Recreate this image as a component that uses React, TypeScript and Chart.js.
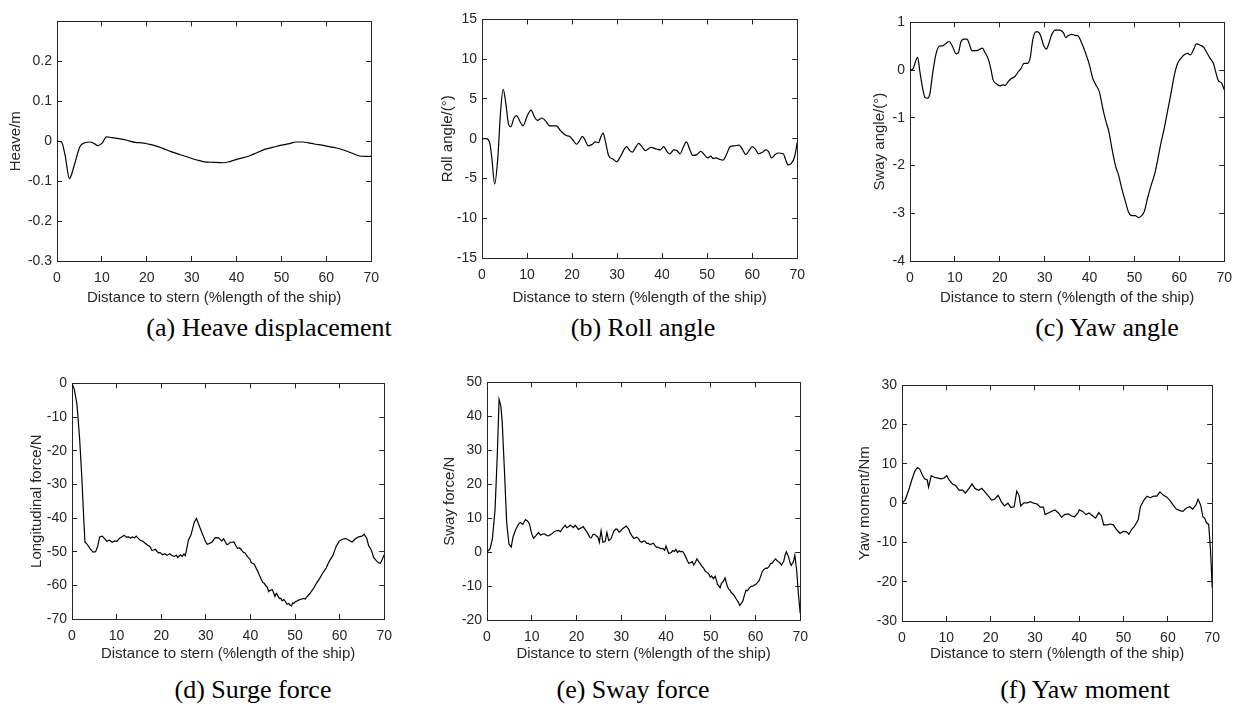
import { useEffect, useRef } from 'react';
import { Chart, registerables } from 'chart.js';

Chart.register(...registerables);

const xTitle = 'Distance to stern (%length of the ship)';
const xMin = 0;
const xMax = 70;
const xStep = 10;

// (a) Heave displacement
const heaveX = [0, 1, 1.8, 2.76, 3.8, 5.1, 6.2, 7.4, 8.3, 9.1, 10.1, 11.0, 12.2, 13.4, 15.4, 17.4, 18.9, 20.3, 21.8, 23.6, 25.4, 27.5, 29.7, 31.2, 32.6, 35, 37, 38.5, 39.9, 42.8, 44.5, 46.4, 48.2, 50, 51.8, 53.3, 54.8, 56, 57.3, 59, 60.9, 62.3, 63.8, 65.5, 67.4, 68.7, 70];
const heaveY = [0, -0.002, -0.035, -0.094, -0.062, -0.014, -0.004, -0.002, -0.006, -0.011, -0.004, 0.011, 0.009, 0.007, 0.003, -0.003, -0.004, -0.007, -0.011, -0.018, -0.026, -0.034, -0.042, -0.047, -0.051, -0.053, -0.054, -0.051, -0.046, -0.037, -0.029, -0.020, -0.015, -0.010, -0.006, -0.002, -0.002, -0.004, -0.007, -0.010, -0.014, -0.017, -0.022, -0.029, -0.037, -0.038, -0.038];

// (b) Roll angle
const rollX = [0, 0.9, 1.7, 2.2, 2.8, 3.5, 4.1, 4.7, 5.3, 5.9, 6.4, 7.1, 7.7, 8.4, 9.1, 10, 10.9, 11.6, 12.3, 13.3, 14, 15.1, 16.5, 17.6, 18.7, 19.4, 20.1, 21, 21.6, 22.3, 22.9, 23.6, 24.5, 25.2, 25.9, 26.3, 26.9, 27.4, 28.1, 29.2, 29.9, 30.7, 31.5, 32.1, 32.8, 33.4, 34.1, 34.8, 35.5, 36.3, 37.5, 38.8, 39.6, 40.3, 41.2, 41.7, 42.6, 43.3, 44, 44.6, 45.4, 46.1, 46.8, 47.7, 48.6, 49.5, 50.1, 50.8, 51.3, 52, 52.8, 53.5, 54.2, 55.1, 56, 57.1, 57.8, 58.6, 59.3, 60, 60.7, 61.4, 62.3, 63, 63.6, 64.3, 65.1, 65.8, 66.9, 67.4, 68, 68.7, 69.4, 70];
const rollY = [0, 0, -0.5, -2.5, -5.7, -2.5, 3.2, 6.2, 4.4, 1.8, 1.5, 2.6, 2.9, 2.2, 1.6, 2.8, 3.6, 2.8, 2.3, 2.6, 2.3, 1.6, 1.6, 0.9, 0.4, 0.3, -0.1, -0.7, -0.3, 0.3, -0.2, -0.9, -0.7, -0.4, -0.5, 0.1, 0.7, -0.3, -2.1, -2.6, -2.9, -2.3, -1.4, -1.0, -1.5, -1.7, -1.1, -0.6, -1.0, -1.5, -1.1, -1.3, -1.4, -1.0, -1.7, -1.9, -1.4, -1.5, -1.9, -1.2, -0.4, -1.3, -2.1, -2.0, -1.6, -2.1, -2.4, -2.2, -2.5, -2.4, -2.6, -2.7, -2.1, -1.0, -0.9, -0.8, -1.3, -2.0, -1.5, -1.0, -1.3, -1.9, -1.7, -1.4, -1.6, -2.4, -2.0, -1.8, -1.9, -2.6, -3.3, -3.1, -2.3, -0.5];

// (c) Yaw angle
const yawAngleX = [0, 0.7, 1.3, 1.7, 2.2, 2.8, 3.3, 3.9, 4.4, 5.1, 5.8, 6.5, 7.3, 8, 8.7, 9.4, 10.3, 10.8, 11.3, 12, 12.7, 13.2, 13.8, 14.9, 15.6, 16.1, 16.7, 17.4, 18, 18.5, 19.3, 20, 20.7, 21.2, 21.8, 22.5, 23.3, 24, 24.7, 25.4, 26.2, 26.8, 27.3, 28, 28.5, 29.1, 29.8, 30.4, 30.9, 31.6, 32.3, 33.4, 34.2, 34.7, 35.2, 36, 36.7, 37.4, 38.2, 39.3, 40, 40.7, 41.4, 42.2, 42.9, 43.6, 44.3, 45.1, 45.8, 46.5, 47.2, 48, 48.7, 49.4, 50.2, 50.9, 51.6, 52.2, 52.9, 53.8, 54.5, 55.2, 55.9, 56.7, 57.4, 58.1, 58.9, 59.6, 60.3, 61.1, 61.8, 62.5, 63.2, 63.8, 64.7, 65.4, 66.1, 66.9, 67.6, 68.2, 68.7, 69.4, 70];
const yawAngleY = [0, 0.03, 0.2, 0.27, -0.03, -0.37, -0.57, -0.59, -0.51, -0.03, 0.34, 0.5, 0.51, 0.56, 0.6, 0.51, 0.34, 0.37, 0.58, 0.65, 0.65, 0.55, 0.41, 0.41, 0.44, 0.46, 0.37, 0.24, 0.03, -0.2, -0.29, -0.33, -0.31, -0.32, -0.25, -0.18, -0.14, -0.05, 0.03, 0.14, 0.14, 0.27, 0.61, 0.8, 0.8, 0.72, 0.51, 0.44, 0.55, 0.75, 0.84, 0.84, 0.78, 0.68, 0.72, 0.75, 0.73, 0.72, 0.58, 0.31, 0.1, -0.17, -0.31, -0.46, -0.78, -1.06, -1.29, -1.7, -2.01, -2.21, -2.49, -2.76, -2.98, -3.05, -3.05, -3.09, -3.05, -2.96, -2.69, -2.39, -2.18, -1.87, -1.53, -1.19, -0.85, -0.51, -0.1, 0.14, 0.24, 0.32, 0.35, 0.32, 0.44, 0.55, 0.52, 0.48, 0.37, 0.24, 0.14, -0.07, -0.22, -0.27, -0.41];

// (d) Surge force
const surgeX = [0, 0.5, 1.1, 1.7, 2.2, 2.6, 2.9, 3.4, 4, 4.7, 5.3, 5.8, 6.2, 6.8, 7.3, 7.8, 8.4, 9, 9.5, 10.1, 10.6, 11.2, 11.7, 12.2, 12.7, 13.1, 13.5, 14, 14.4, 14.9, 15.3, 15.9, 16.4, 17, 17.5, 17.9, 18.3, 18.7, 19, 19.4, 19.7, 20.3, 20.8, 21.3, 21.9, 22.5, 23, 23.4, 23.7, 24.3, 24.7, 25.1, 25.4, 25.6, 26.1, 26.7, 27.4, 27.9, 28.5, 29.2, 29.9, 30.3, 30.7, 31.4, 32.1, 32.9, 33.3, 33.6, 34, 34.3, 34.7, 35.1, 35.5, 35.8, 36.3, 36.7, 37.1, 37.6, 38, 38.4, 38.8, 39.2, 39.5, 39.9, 40.2, 40.6, 40.9, 41.3, 41.6, 42, 42.4, 42.8, 43.1, 43.5, 43.8, 44.1, 44.4, 44.9, 45.2, 45.5, 45.8, 46, 46.3, 46.5, 46.8, 47.1, 47.5, 47.9, 48.2, 48.6, 48.9, 49.2, 49.5, 49.7, 50.1, 50.4, 50.8, 51.2, 51.9, 52.3, 52.6, 53.3, 54.1, 54.8, 55.5, 56.3, 57, 57.7, 58.5, 59.2, 59.9, 60.6, 61.4, 62.1, 62.8, 63.6, 64.3, 65, 65.5, 66.1, 66.5, 66.9, 67.3, 67.6, 68, 68.3, 68.7, 69.1, 69.4, 70];
const surgeY = [0, -1.7, -6.1, -16.2, -27.8, -39.3, -47.1, -47.8, -49, -50.1, -50, -48.2, -45.6, -45.4, -46.1, -46.9, -46.6, -47.2, -46.8, -46.9, -46.1, -45.6, -45.1, -45.7, -45.6, -46, -45.6, -45.9, -45.4, -46.1, -46.6, -46.9, -47.5, -48.1, -48.5, -49.6, -49.5, -49.3, -49.8, -50.4, -50.2, -50.9, -50.6, -51.1, -50.6, -51.2, -51.4, -51, -51.7, -50.9, -51.4, -50.7, -51.2, -50, -46.6, -44.9, -41.3, -40.1, -42.2, -44.6, -46.9, -47.8, -47.6, -47.1, -45.8, -45.9, -46.5, -46.8, -46.2, -46.9, -47.9, -47.7, -47.2, -47.2, -47.1, -48.1, -49, -48.9, -49.5, -50.2, -50.4, -51.2, -51.7, -52.2, -53.3, -53.5, -53.8, -54.9, -55.7, -56.9, -58.1, -59.2, -59.4, -60.2, -60.6, -61.9, -61.5, -61.3, -62.2, -63.3, -62.4, -62.7, -63.5, -63.9, -63.8, -64.6, -64.2, -64.9, -65.6, -65.4, -65.9, -66.1, -65.2, -65.4, -64.8, -64.7, -64.4, -64.2, -63.9, -64.1, -63.5, -62.5, -61, -59.4, -58, -56.2, -54.8, -52.8, -51.1, -48.5, -46.9, -46.3, -46.1, -46.6, -47.1, -46.1, -45.6, -45.4, -44.8, -46.1, -48.2, -49, -50.2, -51.7, -52.3, -52.8, -53.2, -53.5, -52.8, -50.9];

// (e) Sway force
const swayForceX = [0, 0.7, 1.2, 1.8, 2.3, 2.7, 3.1, 3.4, 3.9, 4.4, 4.9, 5.4, 5.8, 6.3, 6.9, 7.2, 7.5, 8, 8.6, 9.1, 9.5, 10, 10.4, 10.9, 11.5, 12, 12.5, 12.9, 13.4, 13.8, 14.2, 14.6, 15.1, 15.5, 16, 16.4, 17, 17.5, 17.8, 18.2, 18.6, 18.9, 19.3, 19.7, 20.1, 20.4, 20.8, 21.1, 21.5, 21.8, 22.2, 22.6, 23, 23.3, 23.7, 24, 24.4, 24.8, 25.1, 25.5, 25.9, 26.4, 26.8, 27.2, 27.7, 28, 28.4, 28.8, 29.1, 29.5, 29.9, 30.3, 30.6, 31.1, 31.7, 32, 32.4, 32.8, 33.1, 33.5, 33.9, 34.2, 34.6, 35, 35.3, 35.7, 36.1, 36.4, 36.8, 37.2, 37.5, 37.9, 38.2, 38.6, 38.9, 39.3, 39.7, 40, 40.6, 41.2, 41.5, 41.9, 42.2, 42.6, 43, 43.3, 43.7, 44, 44.4, 44.8, 45.1, 45.5, 45.9, 46.2, 46.6, 46.9, 47.2, 47.6, 48, 48.4, 48.7, 49.1, 49.5, 49.9, 50.2, 50.6, 51, 51.3, 51.5, 51.8, 52.1, 52.4, 52.8, 53.2, 53.5, 53.7, 54, 54.3, 54.6, 55, 55.3, 55.7, 56.1, 56.5, 56.8, 57.2, 57.5, 57.9, 58.2, 58.6, 59, 59.4, 60.1, 60.8, 61.2, 61.5, 61.9, 62.3, 62.6, 63, 63.4, 63.7, 64.1, 64.5, 64.8, 65.1, 65.5, 65.8, 66.3, 66.6, 66.9, 67.4, 67.7, 68, 68.5, 68.8, 69.2, 69.6, 70];
const swayForceY = [0, 1, 3.9, 12.5, 28.7, 45, 43, 38.3, 23.9, 8.7, 2.4, 1.5, 4.3, 6.3, 7.9, 8.5, 8.7, 8.2, 9.6, 9.1, 8.2, 5.3, 4.1, 4.8, 5.8, 5, 5.4, 5.3, 4.9, 4.8, 5.2, 5.5, 6.1, 6.3, 6.4, 6, 7.2, 7.9, 7.2, 7.5, 7.9, 7.7, 7.2, 7.9, 7.3, 6.7, 7, 7.2, 7.5, 6.9, 6.2, 5.3, 4.3, 4.2, 5.2, 5.3, 4.8, 4.4, 2.9, 6.3, 2.9, 3.1, 5.8, 3.4, 3.9, 5, 6.3, 6.8, 6.7, 5.9, 6.3, 6.9, 7.2, 7.7, 6.7, 5.6, 4.8, 4.1, 4.2, 4.4, 3.9, 3.2, 2.9, 3.3, 3.2, 2.6, 2.6, 2.2, 2.4, 2.6, 2, 1.4, 1.5, 1.2, 1, 1.1, 0.5, 1.8, -0.4, -0.1, 0.4, 0.2, 0.8, -0.1, 0.4, 0.1, 0.2, -0.3, -1.4, -2.6, -3.3, -3.1, -2.8, -3.8, -3, -2, -2.6, -3.3, -4.1, -4.7, -5.5, -5.9, -6.3, -7.4, -7, -7.8, -7.1, -8.4, -9.5, -9.9, -10.5, -9.2, -8.6, -7.6, -9.1, -10, -10.9, -11.2, -11.9, -12.4, -12.9, -13.8, -14.6, -15.7, -15.2, -14.3, -12.8, -11.2, -11.4, -10.6, -10.1, -10, -9.5, -8.4, -7, -5.7, -5.1, -4.7, -4.8, -4.3, -3.3, -3.3, -2.6, -2, -2.5, -2.8, -3.2, -3.8, -2.8, -1, 0.1, -1.4, -3, -3.9, -2.8, -0.9, -5.2, -12.4, -18.1];

// (f) Yaw moment
const yawMomentX = [0, 0.7, 1.5, 2.2, 2.9, 3.5, 4, 4.6, 5.1, 5.7, 6, 6.6, 7.3, 8.1, 8.8, 9.5, 10.1, 10.7, 11.4, 12.1, 12.9, 13.6, 14.3, 15.1, 15.8, 16.5, 17.3, 18, 18.7, 19.5, 20.2, 20.9, 21.7, 22.4, 23.1, 23.9, 24.6, 25.3, 25.9, 26.4, 26.8, 27.5, 28.3, 29, 29.7, 30.5, 31.2, 31.9, 32.3, 33, 33.7, 34.5, 35.3, 36, 36.7, 37.5, 38.2, 38.9, 39.7, 40, 40.8, 41.5, 42.2, 43, 43.7, 44.4, 45, 45.5, 46.3, 47, 47.7, 48.4, 49.2, 49.9, 50.7, 51.2, 51.8, 52.5, 53.3, 53.8, 54.6, 55.3, 56, 56.8, 57.5, 58.2, 59, 59.7, 60.4, 61.2, 61.9, 62.7, 63.4, 64.1, 64.9, 65.6, 66.3, 66.8, 67.4, 67.9, 68.3, 68.7, 69.2, 69.6, 70];
const yawMomentY = [0, 0.8, 3.3, 5.9, 8.2, 9.1, 8.7, 7.2, 6.2, 5.9, 4.1, 7, 6.6, 6.4, 6.2, 6.4, 7, 5.8, 4.9, 4.5, 3.3, 3.4, 2.6, 3.7, 4.9, 3.7, 3.3, 3.8, 2.9, 1.8, 0.8, 1, 2, 0.4, -0.7, 0, -1.1, -0.9, 3.1, 2, -0.7, 0.1, 0.1, 0.4, 0, -0.2, -1, -1, -2.9, -2.5, -2.1, -1.7, -2.5, -3.6, -2.9, -2.7, -3.2, -3.5, -2.5, -1.7, -2.1, -2.9, -2.5, -3.2, -3.8, -2.4, -3.2, -5.5, -5.5, -5.3, -5.5, -6.7, -7.7, -7.2, -7.3, -7.9, -6.7, -5.8, -4.2, -0.9, 0.8, 1.8, 1.4, 1.8, 1.8, 2.9, 2, 1.6, 0.8, -0.5, -1.5, -1.9, -2.1, -1.3, -0.9, -1.5, -0.5, 1, -0.5, -3.5, -3.8, -5, -5.4, -11.6, -21.5];

const AXIS_COLOR = '#262626';
const SANS = '"Liberation Sans", Arial, Helvetica, sans-serif';
const SERIF = '"Liberation Serif", "Times New Roman", serif';

type PanelDef = {
  xs: number[];
  ys: number[];
  yMin: number;
  yMax: number;
  yStep: number;
  yTitle: string;
  caption: string;
  L: number; R: number; T: number; B: number;
  yTitleX: number;
  xTitleOffset: number;
  hideTopLabel: boolean;
  tension: number;
  captionX: number;
  captionBase: number;
};

const panels: PanelDef[] = [
  { xs: heaveX, ys: heaveY, yMin: -0.3, yMax: 0.3, yStep: 0.1, yTitle: 'Heave/m', caption: '(a) Heave displacement', L: 57, R: 378, T: 15, B: 261, yTitleX: 16, xTitleOffset: 37, hideTopLabel: true, tension: 0.4, captionX: 269, captionBase: 337 },
  { xs: rollX, ys: rollY, yMin: -15, yMax: 15, yStep: 5, yTitle: 'Roll angle/(°)', caption: '(b) Roll angle', L: 482, R: 804, T: 13, B: 258, yTitleX: 448, xTitleOffset: 40, hideTopLabel: false, tension: 0.4, captionX: 643, captionBase: 337 },
  { xs: yawAngleX, ys: yawAngleY, yMin: -4, yMax: 1, yStep: 1, yTitle: 'Sway angle/(°)', caption: '(c) Yaw angle', L: 910, R: 1231, T: 16, B: 261, yTitleX: 880, xTitleOffset: 37, hideTopLabel: false, tension: 0.4, captionX: 1107, captionBase: 337 },
  { xs: surgeX, ys: surgeY, yMin: -70, yMax: 0, yStep: 10, yTitle: 'Longitudinal force/N', caption: '(d) Surge force', L: 72, R: 391, T: 377, B: 619, yTitleX: 37, xTitleOffset: 35, hideTopLabel: false, tension: 0, captionX: 253, captionBase: 699 },
  { xs: swayForceX, ys: swayForceY, yMin: -20, yMax: 50, yStep: 10, yTitle: 'Sway force/N', caption: '(e) Sway force', L: 487, R: 807, T: 376, B: 620, yTitleX: 450, xTitleOffset: 34, hideTopLabel: false, tension: 0, captionX: 633, captionBase: 699 },
  { xs: yawMomentX, ys: yawMomentY, yMin: -30, yMax: 30, yStep: 10, yTitle: 'Yaw moment/Nm', caption: '(f) Yaw moment', L: 902, R: 1219, T: 379, B: 621, yTitleX: 865, xTitleOffset: 33, hideTopLabel: false, tension: 0, captionX: 1085, captionBase: 699 },
];

const Y_AXIS_W = 70;
const X_AXIS_H = 50;
const PAD_T = 12;
const PAD_R = 15;
const TICK_SIZE = 14;
const TITLE_SIZE = 15;
const TITLE_LH = TITLE_SIZE * 1.2;

function fmt(v: number) {
  return String(parseFloat(Number(v).toFixed(3)));
}

function PanelChart({ p }: { p: PanelDef }) {
  const ref = useRef<HTMLCanvasElement | null>(null);
  const width = p.R - p.L + Y_AXIS_W + PAD_R;
  const height = p.B - p.T + PAD_T + X_AXIS_H;
  const left = p.L - Y_AXIS_W;
  const top = p.T - PAD_T;

  useEffect(() => {
    if (!ref.current) return;
    const grid = { display: true, drawOnChartArea: false, drawTicks: true, tickLength: -5, color: AXIS_COLOR, lineWidth: 1 };
    const border = { display: true, color: AXIS_COLOR, width: 1 };
    const tickFont = { family: SANS, size: TICK_SIZE };
    const titleFont = { family: SANS, size: TITLE_SIZE };
    const yTitlePad = (p.yTitleX - left) - TITLE_LH / 2;
    const xTitlePad = X_AXIS_H - p.xTitleOffset - TITLE_LH / 2;
    const chart = new Chart(ref.current, {
      type: 'line',
      data: {
        datasets: [
          {
            data: p.xs.map((x, i) => ({ x, y: p.ys[i] })),
            borderColor: '#000000',
            borderWidth: 1.2,
            pointRadius: 0,
            fill: false,
            tension: p.tension,
            cubicInterpolationMode: p.tension > 0 ? 'monotone' : 'default',
          },
        ],
      },
      options: {
        animation: false,
        responsive: false,
        maintainAspectRatio: false,
        layout: { padding: { top: PAD_T, right: PAD_R, left: 0, bottom: 0 } },
        plugins: { legend: { display: false }, tooltip: { enabled: false }, title: { display: false } },
        scales: {
          x: {
            type: 'linear',
            position: 'bottom',
            min: xMin,
            max: xMax,
            ticks: { stepSize: xStep, padding: 14, color: AXIS_COLOR, font: tickFont, maxRotation: 0, callback: (v: any) => fmt(v) },
            grid,
            border,
            title: { display: true, text: xTitle, color: AXIS_COLOR, font: titleFont, padding: { top: 0, bottom: xTitlePad } },
            afterFit: (s: any) => { s.height = X_AXIS_H; },
          },
          x2: {
            type: 'linear',
            position: 'top',
            min: xMin,
            max: xMax,
            ticks: { stepSize: xStep, display: false },
            grid,
            border,
            afterFit: (s: any) => { s.height = 0; },
          },
          y: {
            type: 'linear',
            position: 'left',
            min: p.yMin,
            max: p.yMax,
            ticks: {
              stepSize: p.yStep,
              padding: 10,
              color: AXIS_COLOR,
              font: tickFont,
              callback: (v: any, i: number, arr: any[]) => (p.hideTopLabel && i === arr.length - 1 ? '' : fmt(v)),
            },
            grid,
            border,
            title: { display: true, text: p.yTitle, color: AXIS_COLOR, font: titleFont, padding: { top: yTitlePad, bottom: 0 } },
            afterFit: (s: any) => { s.width = Y_AXIS_W; },
          },
          y2: {
            type: 'linear',
            position: 'right',
            min: p.yMin,
            max: p.yMax,
            ticks: { stepSize: p.yStep, display: false },
            grid,
            border,
            afterFit: (s: any) => { s.width = 0; },
          },
        },
      } as any,
    });
    return () => chart.destroy();
  }, []);

  return (
    <>
      <canvas
        ref={ref}
        width={width}
        height={height}
        style={{ position: 'absolute', left, top, width, height }}
      />
      <div
        style={{
          position: 'absolute',
          left: p.captionX - 200,
          top: p.captionBase - 21.8,
          width: 400,
          textAlign: 'center',
          fontFamily: SERIF,
          fontSize: 26,
          lineHeight: '26px',
          color: '#000',
          whiteSpace: 'nowrap',
        }}
      >
        {p.caption}
      </div>
    </>
  );
}

export default function App() {
  return (
    <div style={{ position: 'absolute', left: 0, top: 0, width: 1246, height: 707, background: '#fff', overflow: 'hidden' }}>
      {panels.map((p, i) => (
        <PanelChart key={i} p={p} />
      ))}
    </div>
  );
}
